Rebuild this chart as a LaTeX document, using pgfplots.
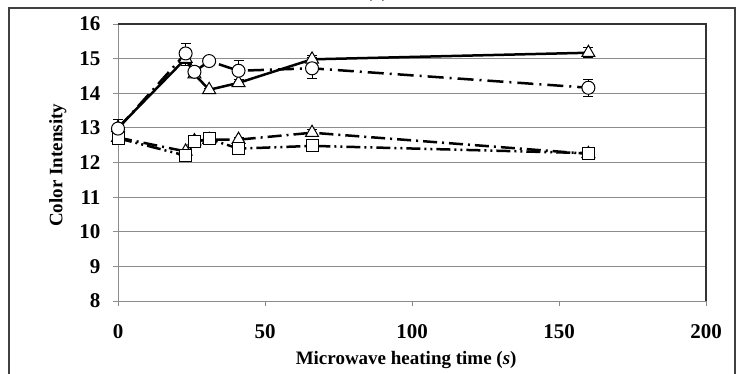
\documentclass[border=0pt]{standalone}
\usepackage{pgfplots}
\pgfplotsset{compat=1.18}
\usepackage{fontspec}
\setmainfont{Liberation Serif}
\begin{document}
\begin{tikzpicture}[x=1pt,y=1pt]
\useasboundingbox (0,0) rectangle (740,374);
\fill[white] (0,0) rectangle (740,374);
\draw[line width=1.5pt, black!75] (9,-10) rectangle (735,366);
\node[anchor=base, font=\fontsize{19}{22}\selectfont\bfseries] at (377,376) {(a)};
\begin{axis}[
  at={(118pt,73pt)}, anchor=origin,
  scale only axis, width=588pt, height=277pt,
  xmin=0, xmax=200, ymin=8, ymax=16,
  xtick={0,50,100,150,200}, ytick={8,9,...,16},
  axis line style={black!45, line width=0.8pt},
  ymajorgrids, grid style={black!45, line width=0.8pt},
  tick align=outside, tick style={black!45, line width=0.8pt},
  major tick length=5pt,
  xtick pos=bottom, ytick pos=left,
  /pgf/number format/assume math mode=true,
  tick label style={font=\fontsize{21}{24}\selectfont\bfseries},
  xticklabel style={yshift=-15pt},
  yticklabel style={xshift=-9pt},
  label style={font=\fontsize{19}{22}\selectfont\bfseries},
  xlabel={Microwave heating time (\textit{s})},
  ylabel={Color Intensity},
  xlabel style={at={(axis description cs:0.49,0)}, anchor=north, yshift=-47pt},
  ylabel style={at={(axis description cs:0,0.49)}, anchor=south, yshift=48pt},
  clip=false,
  error bars/error bar style={black, line width=1pt, solid},
  error bars/error mark options={rotate=90, mark size=5pt, line width=1pt, black, solid},
]
\draw[black!80, line width=1.3pt] (rel axis cs:0,1) -- (rel axis cs:1,1) -- (rel axis cs:1,0);
% lower triangles, dash-dot
\addplot[black, line width=2.5pt, dash pattern=on 14pt off 5pt on 2pt off 5pt,
  mark=triangle*, mark size=7.5pt, mark options={solid, fill=white, line width=1pt},
  error bars/.cd, y dir=both, y explicit]
  coordinates {(0,12.72)+-(0,0.05) (23,12.32)+-(0,0.05) (26,12.62)+-(0,0.05) (31,12.66)+-(0,0.05) (41,12.66)+-(0,0.05) (66,12.86)+-(0,0.08) (160,12.25)+-(0,0.05)};
% squares, dash-dot-dot
\addplot[black, line width=2.5pt, dash pattern=on 14pt off 4pt on 2pt off 4pt on 2pt off 4pt,
  mark=square*, mark size=6pt, mark options={solid, fill=white, line width=1pt},
  error bars/.cd, y dir=both, y explicit]
  coordinates {(0,12.70)+-(0,0.05) (23,12.20)+-(0,0.05) (26,12.60)+-(0,0.05) (31,12.68)+-(0,0.08) (41,12.40)+-(0,0.05) (66,12.48)+-(0,0.05) (160,12.27)+-(0,0.08)};
% upper triangles, solid
\addplot[black, line width=2.5pt, solid,
  mark=triangle*, mark size=7.5pt, mark options={solid, fill=white, line width=1pt},
  error bars/.cd, y dir=both, y explicit]
  coordinates {(0,13.00)+-(0,0.05) (23,15.00)+-(0,0.2) (26,14.55)+-(0,0.1) (31,14.10)+-(0,0.05) (41,14.30)+-(0,0.1) (66,14.98)+-(0,0.1) (160,15.17)+-(0,0.15)};
% circles, long dash-dot
\addplot[black, line width=2.5pt, dash pattern=on 16pt off 6pt on 2pt off 6pt,
  mark=*, mark size=6.5pt, mark options={solid, fill=white, line width=1pt},
  error bars/.cd, y dir=both, y explicit]
  coordinates {(0,12.98)+-(0,0.25) (23,15.15)+-(0,0.3) (26,14.62)+-(0,0.15) (31,14.93)+-(0,0.1) (41,14.65)+-(0,0.3) (66,14.72)+-(0,0.3) (160,14.16)+-(0,0.25)};
\end{axis}
\end{tikzpicture}
\end{document}
